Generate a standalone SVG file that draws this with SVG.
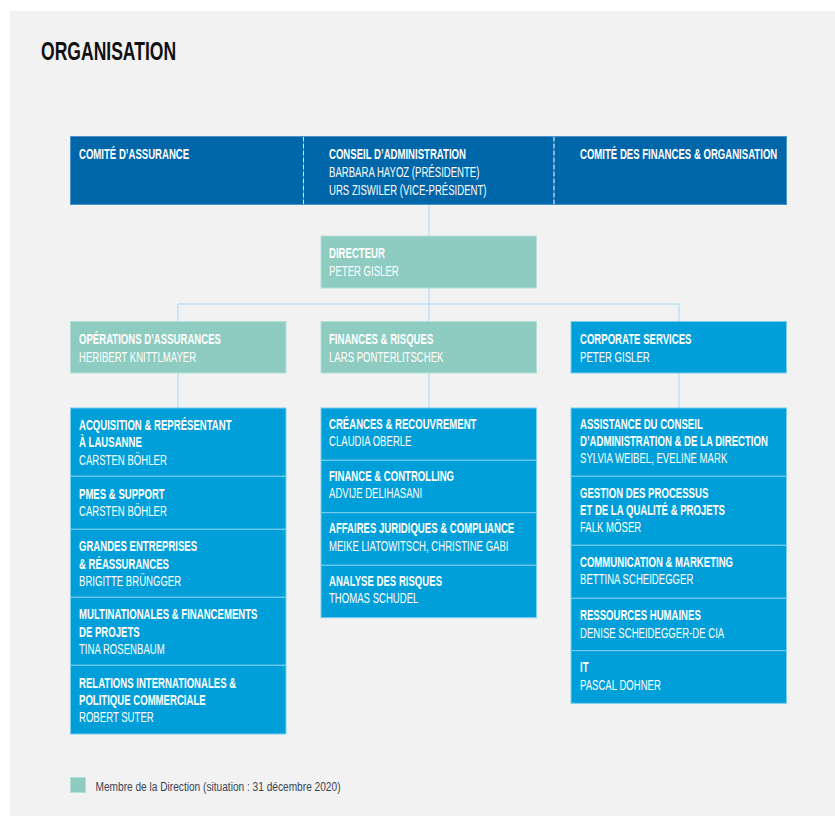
<svg xmlns="http://www.w3.org/2000/svg" width="835" height="816" viewBox="0 0 835 816">
<style>
text{font-family:"Liberation Sans",Arial,sans-serif;font-size:14px;fill:#ffffff}
.b{font-weight:bold}
.r{font-weight:normal}
.title{font-size:26px;font-weight:bold;fill:#111111}
.legend{font-size:12.5px;fill:#3a4452}
.top{fill:#0066aa;stroke:#4d93c9;stroke-width:1}
.teal{fill:#8ecbc1;stroke:#b4e0d9;stroke-width:1}
.blue{fill:#009fda;stroke:#7dcdef;stroke-width:1}
.conn{fill:none;stroke:#bde2f6;stroke-width:1.5}
.sep{stroke:#d6e8f5;stroke-width:1;stroke-dasharray:4 3}
</style>
<rect x="0" y="0" width="835" height="816" fill="#ffffff"/>
<rect x="10" y="11" width="825" height="805" fill="#f2f2f2"/>
<text class="title" transform="translate(41,60) scale(0.675,1)">ORGANISATION</text>

<g id="connectors">
<path class="conn" d="M429 204V236M429 288V321M178 304H679M178 304V321M679 304V321M178 373V408M429 373V408M679 373V408"/>
</g>

<g id="n-comite-assurance">
<rect class="top" x="70.5" y="136.5" width="233" height="68"/>
<text class="b" transform="translate(79,159) scale(0.685,1)">COMITÉ D’ASSURANCE</text>
</g>
<g id="n-conseil">
<rect class="top" x="303.5" y="136.5" width="250.5" height="68"/>
<text class="b" transform="translate(329,159) scale(0.685,1)">CONSEIL D’ADMINISTRATION</text>
<text class="r" transform="translate(329,177) scale(0.685,1)">BARBARA HAYOZ (PRÉSIDENTE)</text>
<text class="r" transform="translate(329,195) scale(0.685,1)">URS ZISWILER (VICE-PRÉSIDENT)</text>
</g>
<g id="n-comite-finances">
<rect class="top" x="554" y="136.5" width="232.5" height="68"/>
<text class="b" transform="translate(580,159) scale(0.685,1)">COMITÉ DES FINANCES &amp; ORGANISATION</text>
</g>
<g id="separators">
<line class="sep" x1="303.5" y1="137" x2="303.5" y2="204"/>
<line class="sep" x1="554" y1="137" x2="554" y2="204"/>
</g>

<g id="n-directeur">
<rect class="teal" x="321" y="236" width="215.5" height="52"/>
<text class="b" transform="translate(329,258) scale(0.685,1)">DIRECTEUR</text>
<text class="r" transform="translate(329,275.5) scale(0.685,1)">PETER GISLER</text>
</g>

<g id="n-operations">
<rect class="teal" x="70.5" y="321.5" width="215.5" height="51.5"/>
<text class="b" transform="translate(79,344) scale(0.685,1)">OPÉRATIONS D’ASSURANCES</text>
<text class="r" transform="translate(79,361.5) scale(0.685,1)">HERIBERT KNITTLMAYER</text>
</g>
<g id="n-finances-risques">
<rect class="teal" x="321" y="321.5" width="215.5" height="51.5"/>
<text class="b" transform="translate(329,344) scale(0.685,1)">FINANCES &amp; RISQUES</text>
<text class="r" transform="translate(329,361.5) scale(0.685,1)">LARS PONTERLITSCHEK</text>
</g>
<g id="n-corporate">
<rect class="blue" x="571" y="321.5" width="215.5" height="51.5"/>
<text class="b" transform="translate(580,344) scale(0.685,1)">CORPORATE SERVICES</text>
<text class="r" transform="translate(580,361.5) scale(0.685,1)">PETER GISLER</text>
</g>

<!-- left column -->
<g id="n-acquisition">
<rect class="blue" x="70.5" y="408" width="215.5" height="68.3"/>
<text class="b" transform="translate(79,430) scale(0.685,1)">ACQUISITION &amp; REPRÉSENTANT</text>
<text class="b" transform="translate(79,447.3) scale(0.685,1)">À LAUSANNE</text>
<text class="r" transform="translate(79,464.6) scale(0.685,1)">CARSTEN BÖHLER</text>
</g>
<g id="n-pmes">
<rect class="blue" x="70.5" y="476.3" width="215.5" height="53"/>
<text class="b" transform="translate(79,498.6) scale(0.685,1)">PMES &amp; SUPPORT</text>
<text class="r" transform="translate(79,515.9) scale(0.685,1)">CARSTEN BÖHLER</text>
</g>
<g id="n-grandes">
<rect class="blue" x="70.5" y="529.3" width="215.5" height="68"/>
<text class="b" transform="translate(79,551.3) scale(0.685,1)">GRANDES ENTREPRISES</text>
<text class="b" transform="translate(79,568.6) scale(0.685,1)">&amp; RÉASSURANCES</text>
<text class="r" transform="translate(79,585.9) scale(0.685,1)">BRIGITTE BRÜNGGER</text>
</g>
<g id="n-multinationales">
<rect class="blue" x="70.5" y="597.3" width="215.5" height="68"/>
<text class="b" transform="translate(79,619.3) scale(0.685,1)">MULTINATIONALES &amp; FINANCEMENTS</text>
<text class="b" transform="translate(79,636.6) scale(0.685,1)">DE PROJETS</text>
<text class="r" transform="translate(79,653.9) scale(0.685,1)">TINA ROSENBAUM</text>
</g>
<g id="n-relations">
<rect class="blue" x="70.5" y="665.3" width="215.5" height="68.7"/>
<text class="b" transform="translate(79,687.6) scale(0.685,1)">RELATIONS INTERNATIONALES &amp;</text>
<text class="b" transform="translate(79,704.9) scale(0.685,1)">POLITIQUE COMMERCIALE</text>
<text class="r" transform="translate(79,722.2) scale(0.685,1)">ROBERT SUTER</text>
</g>

<!-- middle column -->
<g id="n-creances">
<rect class="blue" x="321" y="408" width="215.5" height="52.3"/>
<text class="b" transform="translate(329,428.6) scale(0.685,1)">CRÉANCES &amp; RECOUVREMENT</text>
<text class="r" transform="translate(329,445.9) scale(0.685,1)">CLAUDIA OBERLE</text>
</g>
<g id="n-finance-controlling">
<rect class="blue" x="321" y="460.3" width="215.5" height="52.4"/>
<text class="b" transform="translate(329,481) scale(0.685,1)">FINANCE &amp; CONTROLLING</text>
<text class="r" transform="translate(329,498.3) scale(0.685,1)">ADVIJE DELIHASANI</text>
</g>
<g id="n-affaires">
<rect class="blue" x="321" y="512.7" width="215.5" height="52.6"/>
<text class="b" transform="translate(329,533.4) scale(0.685,1)">AFFAIRES JURIDIQUES &amp; COMPLIANCE</text>
<text class="r" transform="translate(329,550.7) scale(0.685,1)">MEIKE LIATOWITSCH, CHRISTINE GABI</text>
</g>
<g id="n-analyse">
<rect class="blue" x="321" y="565.3" width="215.5" height="52.4"/>
<text class="b" transform="translate(329,586) scale(0.685,1)">ANALYSE DES RISQUES</text>
<text class="r" transform="translate(329,603.3) scale(0.685,1)">THOMAS SCHUDEL</text>
</g>

<!-- right column -->
<g id="n-assistance">
<rect class="blue" x="571" y="408" width="215.5" height="68.3"/>
<text class="b" transform="translate(580,428.8) scale(0.685,1)">ASSISTANCE DU CONSEIL</text>
<text class="b" transform="translate(580,446.1) scale(0.685,1)">D’ADMINISTRATION &amp; DE LA DIRECTION</text>
<text class="r" transform="translate(580,463.4) scale(0.685,1)">SYLVIA WEIBEL, EVELINE MARK</text>
</g>
<g id="n-gestion">
<rect class="blue" x="571" y="476.3" width="215.5" height="69"/>
<text class="b" transform="translate(580,497.8) scale(0.685,1)">GESTION DES PROCESSUS</text>
<text class="b" transform="translate(580,515.1) scale(0.685,1)">ET DE LA QUALITÉ &amp; PROJETS</text>
<text class="r" transform="translate(580,532.4) scale(0.685,1)">FALK MÖSER</text>
</g>
<g id="n-communication">
<rect class="blue" x="571" y="545.3" width="215.5" height="53"/>
<text class="b" transform="translate(580,567) scale(0.685,1)">COMMUNICATION &amp; MARKETING</text>
<text class="r" transform="translate(580,584.3) scale(0.685,1)">BETTINA SCHEIDEGGER</text>
</g>
<g id="n-ressources">
<rect class="blue" x="571" y="598.3" width="215.5" height="52.4"/>
<text class="b" transform="translate(580,620.3) scale(0.685,1)">RESSOURCES HUMAINES</text>
<text class="r" transform="translate(580,637.6) scale(0.685,1)">DENISE SCHEIDEGGER-DE CIA</text>
</g>
<g id="n-it">
<rect class="blue" x="571" y="650.7" width="215.5" height="52.6"/>
<text class="b" transform="translate(580,672.2) scale(0.685,1)">IT</text>
<text class="r" transform="translate(580,689.5) scale(0.685,1)">PASCAL DOHNER</text>
</g>

<g id="legend">
<rect x="70.5" y="777.5" width="15" height="15" fill="#8ecbc1" stroke="#b4e0d9" stroke-width="1"/>
<text class="legend" x="95.5" y="790.5" textLength="245" lengthAdjust="spacingAndGlyphs">Membre de la Direction (situation : 31 décembre 2020)</text>
</g>
</svg>
